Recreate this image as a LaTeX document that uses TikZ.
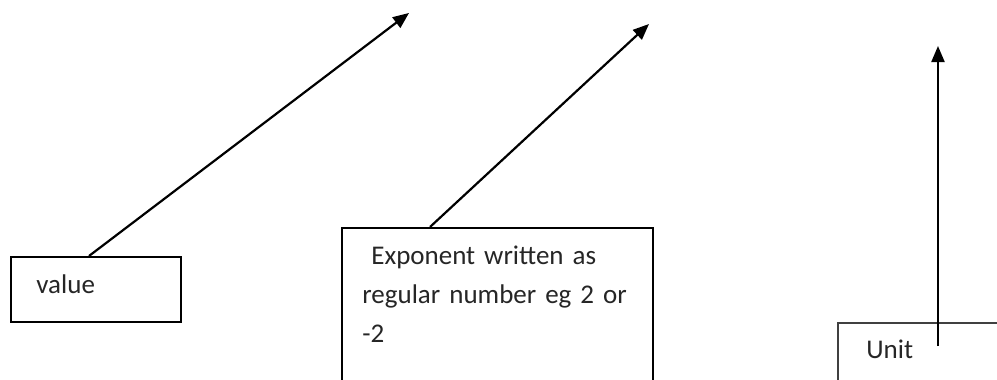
\documentclass[tikz,border=0pt]{standalone}
\usepackage{fontspec}
\setmainfont{Carlito}
\usetikzlibrary{arrows.meta,calc}
\begin{document}
\begin{tikzpicture}[x=0.5pt,y=-0.5pt,
  box/.style={draw=black,line width=1.1pt,anchor=north west,inner sep=0pt},
  ubox/.style={draw=black!75,line width=0.8pt,anchor=north west,inner sep=0pt},
  lbl/.style={anchor=base west,inner sep=0pt,font=\fontsize{13.5}{19.5}\selectfont,text=black!85},
  arr/.style={line width=1.1pt,-{Triangle[length=8pt,width=6.5pt]}}]
\useasboundingbox[fill=white] (0,0) rectangle (997,380);
\begin{scope}
\clip (0,0) rectangle (997,380);
% boxes
\node[box,minimum width=170*0.5pt,minimum height=65*0.5pt] (val) at (10,256) {};
\node[box,minimum width=311*0.5pt,minimum height=180*0.5pt] (expo) at (341,227) {};
\node[ubox,minimum width=200*0.5pt,minimum height=100*0.5pt] (unit) at (837,322) {};
% labels
\node[lbl] (tval) at (36,293) {value};
\node[lbl,align=left,text width=295*0.5pt] (texp) at (362,264) {\ Exponent written as\\regular number eg 2 or\\-2};
\node[lbl] (tunit) at (866,358) {Unit};
% arrow targets
\coordinate (a1) at (409,13);
\coordinate (a2) at (649,24);
\coordinate (a3) at (938,46);
\coordinate (u0) at (938,346);
% connectors
\draw[arr] ([xshift=79*0.5pt]val.north west) -- (a1);
\draw[arr] ([xshift=89*0.5pt]expo.north west) -- (a2);
\draw[arr] (u0) -- (a3);
\end{scope}
\end{tikzpicture}
\end{document}
